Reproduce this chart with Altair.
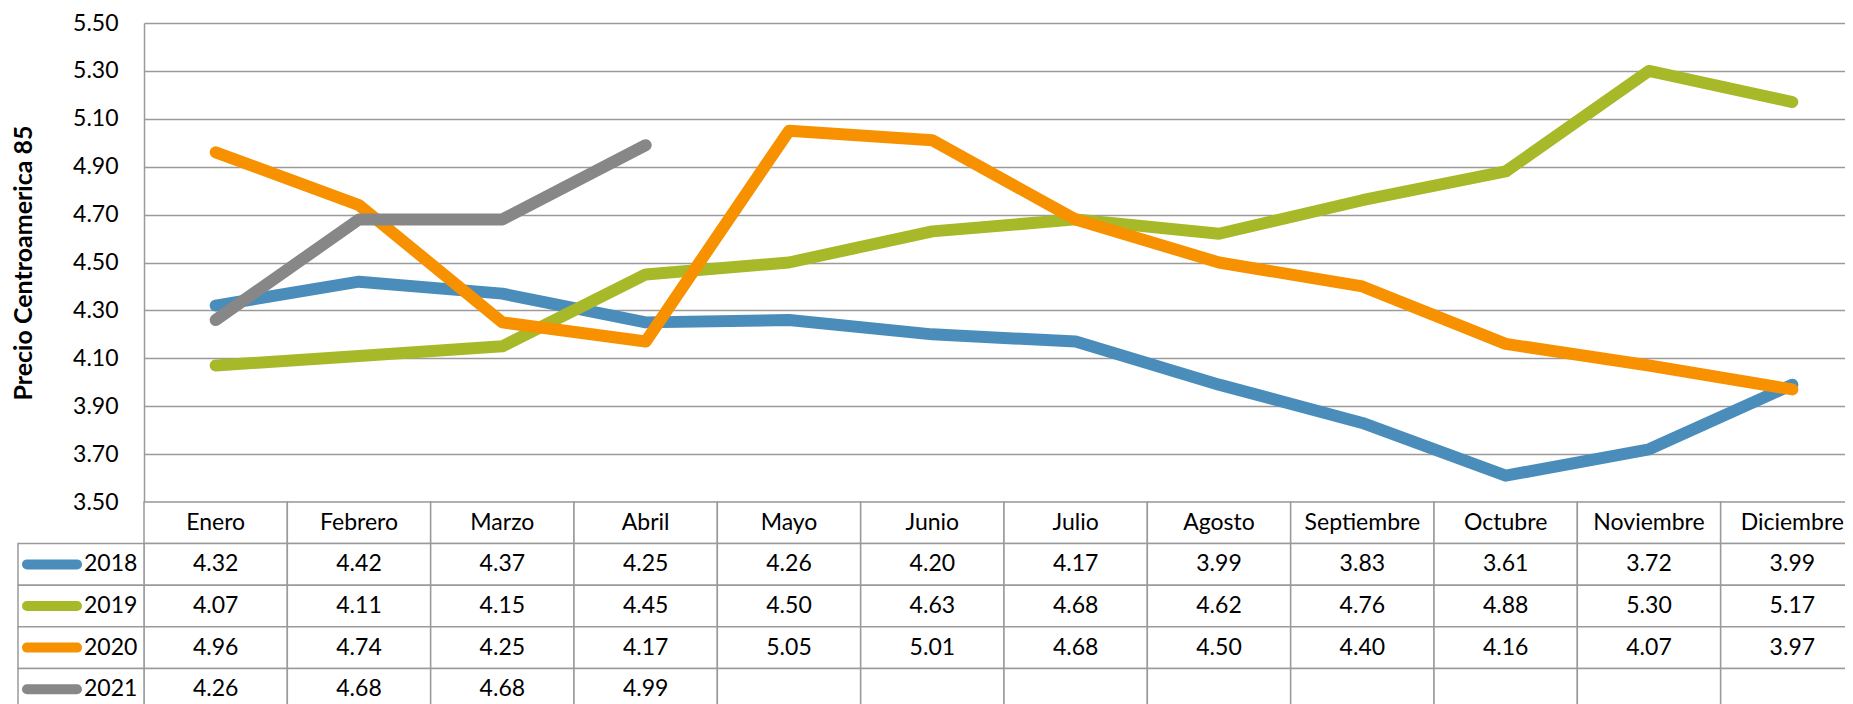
import altair as alt
import pandas as pd

meses = ["Enero", "Febrero", "Marzo", "Abril", "Mayo", "Junio", "Julio",
         "Agosto", "Septiembre", "Octubre", "Noviembre", "Diciembre"]
anios = ["2018", "2019", "2020", "2021"]
p2018 = [4.32, 4.42, 4.37, 4.25, 4.26, 4.20, 4.17, 3.99, 3.83, 3.61, 3.72, 3.99]
p2019 = [4.07, 4.11, 4.15, 4.45, 4.50, 4.63, 4.68, 4.62, 4.76, 4.88, 5.30, 5.17]
p2020 = [4.96, 4.74, 4.25, 4.17, 5.05, 5.01, 4.68, 4.50, 4.40, 4.16, 4.07, 3.97]
p2021 = [4.26, 4.68, 4.68, 4.99]
colores = ["#4A8DBA", "#A7B928", "#F79100", "#878787"]
y_ticks = [3.50, 3.70, 3.90, 4.10, 4.30, 4.50, 4.70, 4.90, 5.10, 5.30, 5.50]
y_titulo = "Precio Centroamerica 85"

FONT = "Lato"
FS = 23
GRID = "#9a9a9a"
PAD_L = 136
PAD_T = 15
SVG_W = 1837
SVG_H = 696
W = SVG_W - PAD_L          # visible plot width (scale runs beyond, clipped)
XR = 1720                   # full width of the 12 month columns
H = 479
TH = 208

series = {"2018": p2018, "2019": p2019, "2020": p2020, "2021": p2021}

rows = []
for a in anios:
    for m, v in zip(meses, series[a]):
        rows.append({"Mes": m, "Año": a, "Precio": v})
df = pd.DataFrame(rows)

filas = ["-"] + anios
celdas = []
for m in meses:
    celdas.append({"Mes": m, "Fila": "-", "Texto": m})
for a in anios:
    vals = series[a]
    for i, m in enumerate(meses):
        t = f"{vals[i]:.2f}" if i < len(vals) else ""
        celdas.append({"Mes": m, "Fila": a, "Texto": t})
df_tabla = pd.DataFrame(celdas)
df_ley = pd.DataFrame({"Fila": anios, "Año": anios})

color_scale = alt.Scale(domain=anios, range=colores)
x_scale = alt.Scale(type="band", paddingInner=0, paddingOuter=0, range=[0, XR])

lineas = alt.Chart(df).mark_line(
    strokeWidth=12, strokeCap="round", strokeJoin="round"
).encode(
    x=alt.X("Mes:N", sort=meses, scale=x_scale, axis=None, bandPosition=0.5),
    y=alt.Y("Precio:Q",
            scale=alt.Scale(domain=[3.5, 5.5], nice=False, zero=False),
            axis=alt.Axis(values=y_ticks, format=".2f", title=y_titulo,
                          grid=True, gridColor=GRID, gridWidth=1.5,
                          domainColor=GRID, domainWidth=1.5, ticks=False,
                          labelPadding=26, labelFont=FONT, labelFontSize=FS,
                          labelColor="black",
                          titleFont=FONT, titleFontSize=25, titleFontWeight="bold",
                          titleColor="black", titlePadding=36)),
    color=alt.Color("Año:N", scale=color_scale, legend=None),
)

yenc = alt.Y("Fila:N",
             scale=alt.Scale(domain=filas, paddingInner=0, paddingOuter=0, range=[H, H + TH]),
             axis=None)
xenc = alt.X("Mes:N", sort=meses, scale=x_scale, axis=None)

base = alt.Chart(df_tabla).encode(x=xenc, y=yenc)
celdas_rect = base.mark_rect(fill="white", stroke=GRID, strokeWidth=1.5)
celdas_txt = base.mark_text(font=FONT, fontSize=FS, color="black").encode(text="Texto:N")

ley_rect = alt.Chart(df_ley).mark_rect(fill="white", stroke=GRID, strokeWidth=1.5).encode(
    x=alt.value(-126), x2=alt.value(0), y=yenc)
ley_linea = alt.Chart(df_ley).mark_rule(strokeWidth=10, strokeCap="round").encode(
    x=alt.value(-117), x2=alt.value(-67), y=yenc,
    color=alt.Color("Año:N", scale=color_scale, legend=None))
ley_txt = alt.Chart(df_ley).mark_text(font=FONT, fontSize=FS, color="black", align="left").encode(
    x=alt.value(-60), y=yenc, text="Fila:N")

chart = alt.layer(
    celdas_rect, celdas_txt, ley_rect, ley_linea, ley_txt, lineas
).resolve_scale(y="independent").properties(
    width=W, height=H,
    autosize=alt.AutoSizeParams(type="none"),
    padding={"left": PAD_L, "top": PAD_T, "right": 0, "bottom": SVG_H - PAD_T - H},
).configure_view(stroke=None)

chart.save("out.html", embed_options={"renderer": "svg", "actions": False})
